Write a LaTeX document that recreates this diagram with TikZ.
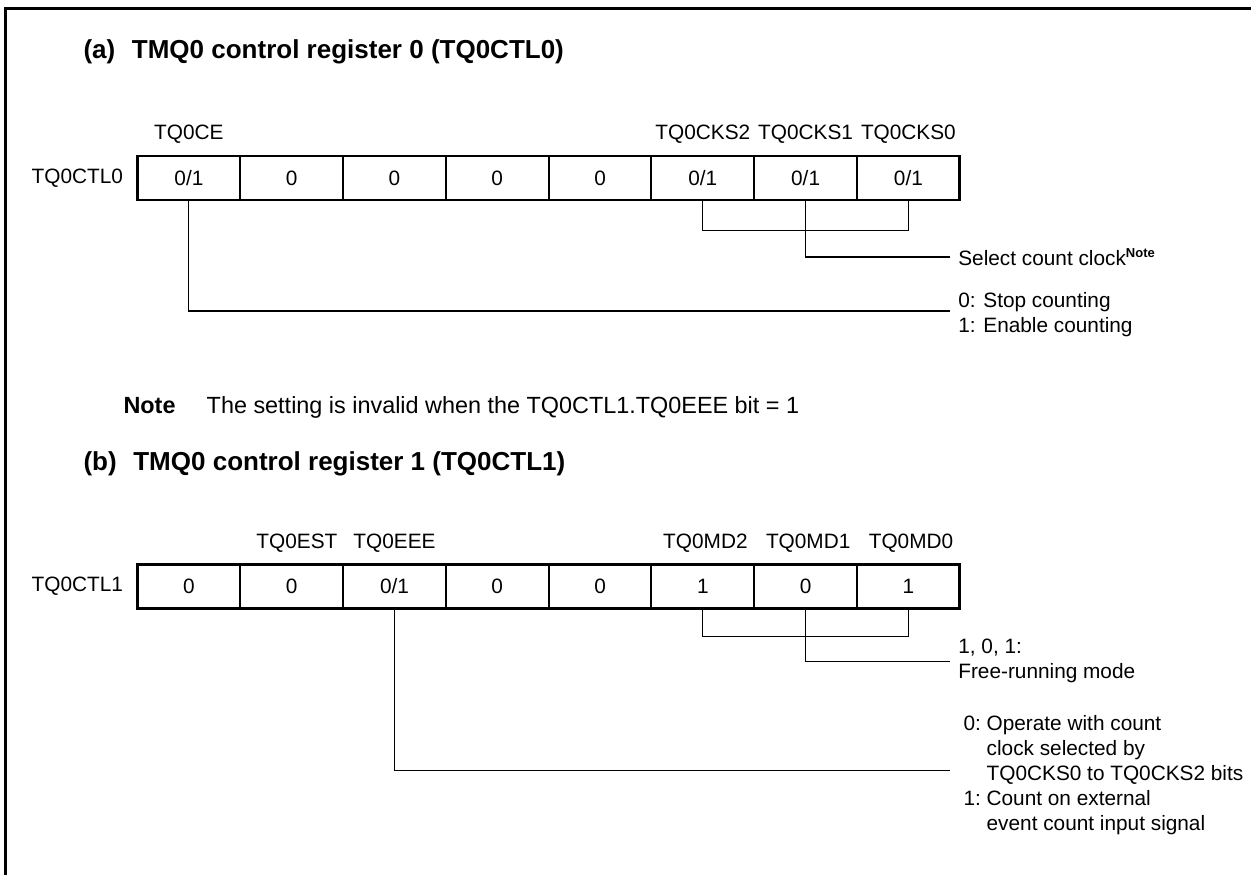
\documentclass[tikz,border=0pt]{standalone}
\usepackage{fontspec}
\setmainfont{Liberation Sans}
\usepackage{tikz}
\usetikzlibrary{positioning}

\begin{document}
\begin{tikzpicture}[x=0.3846pt,y=-0.3846pt,cell/.style={draw,line width=0.4pt,minimum width=39.13pt,minimum height=16.54pt,inner sep=0pt,font=\fontsize{8}{9.6}\selectfont},bitname/.style={inner sep=0pt,font=\fontsize{8}{9.6}\selectfont},regname/.style={inner sep=0pt,font=\fontsize{8}{9.6}\selectfont},desc/.style={anchor=west,align=left,inner xsep=3pt,inner ysep=0pt,font=\fontsize{8}{9.6}\selectfont},heading/.style={anchor=west,inner sep=0pt,font=\fontsize{10}{12}\selectfont\bfseries},wire/.style={line width=0.4pt},regbox/.style={line width=1pt}]
\useasboundingbox (0,0) rectangle (1251,875);
\draw[line width=1.15pt] (5.5,875) |- (1251,8);
\node[heading] (tia) at (83,52) {(a)\hspace{6.4pt}TMQ0 control register 0 (TQ0CTL0)};
\node[cell] (a1) at (188.9,178) {0/1};
\node[cell,right=0pt of a1] (a2) {0};
\node[cell,right=0pt of a2] (a3) {0};
\node[cell,right=0pt of a3] (a4) {0};
\node[cell,right=0pt of a4] (a5) {0};
\node[cell,right=0pt of a5] (a6) {0/1};
\node[cell,right=0pt of a6] (a7) {0/1};
\node[cell,right=0pt of a7] (a8) {0/1};
\draw[regbox] (a1.north west) rectangle (a8.south east);
\node[regname,left=5.4pt of a1] (ra) {TQ0CTL0};
\node[bitname,above=4.6pt of a1] (ce) {TQ0CE};
\node[bitname,above=4.6pt of a6] (cks2) {TQ0CKS2};
\node[bitname,above=4.6pt of a7] (cks1) {TQ0CKS1};
\node[bitname,above=4.6pt of a8] (cks0) {TQ0CKS0};
\node[desc] (sel) at (950,257) {Select count clock\raisebox{3pt}{\fontsize{5}{6}\selectfont\bfseries Note}};
\node[desc] (cnt) at (950,311) {\raisebox{-1.4pt}[\height][\depth]{\begin{tabular}{@{}l@{}}0: Stop counting\\1: Enable counting\end{tabular}}};
\draw[wire] (a6.south) -- ++(0,30) -| (a8.south);
\draw[wire] (a7.south) |- (sel.west);
\draw[wire] (a1.south) |- (cnt.west);
\node[anchor=west,inner sep=0pt,font=\fontsize{9}{10.8}\selectfont] (note) at (123,407) {\textbf{Note}\hspace{12pt}The setting is invalid when the TQ0CTL1.TQ0EEE bit = 1};
\node[heading] (tib) at (83,464) {(b)\hspace{6.4pt}TMQ0 control register 1 (TQ0CTL1)};
\node[cell] (b1) at (188.9,586.5) {0};
\node[cell,right=0pt of b1] (b2) {0};
\node[cell,right=0pt of b2] (b3) {0/1};
\node[cell,right=0pt of b3] (b4) {0};
\node[cell,right=0pt of b4] (b5) {0};
\node[cell,right=0pt of b5] (b6) {1};
\node[cell,right=0pt of b6] (b7) {0};
\node[cell,right=0pt of b7] (b8) {1};
\draw[regbox] (b1.north west) rectangle (b8.south east);
\node[regname,left=5.4pt of b1] (rb) {TQ0CTL1};
\node[bitname,above=4.6pt of b2,xshift=2pt] (est) {TQ0EST};
\node[bitname,above=4.6pt of b3] (eee) {TQ0EEE};
\node[bitname,above=4.6pt of b6,xshift=1pt] (md2) {TQ0MD2};
\node[bitname,above=4.6pt of b7,xshift=1pt] (md1) {TQ0MD1};
\node[bitname,above=4.6pt of b8,xshift=1pt] (md0) {TQ0MD0};
\node[desc] (mode) at (950,661) {1, 0, 1:\\Free-running mode};
\node[desc,inner xsep=5pt] (ext) at (950,770) {\raisebox{-2pt}[\height][\depth]{\begin{tabular}{@{}l@{\ }l@{}}0:&Operate with count\\&clock selected by\\&TQ0CKS0 to TQ0CKS2 bits\\1:&Count on external\\&event count input signal\end{tabular}}};
\draw[wire] (b6.south) -- ++(0,27.5) -| (b8.south);
\draw[wire] (b7.south) |- (mode.west);
\draw[wire] (b3.south) |- (ext.west);
\end{tikzpicture}
\end{document}
